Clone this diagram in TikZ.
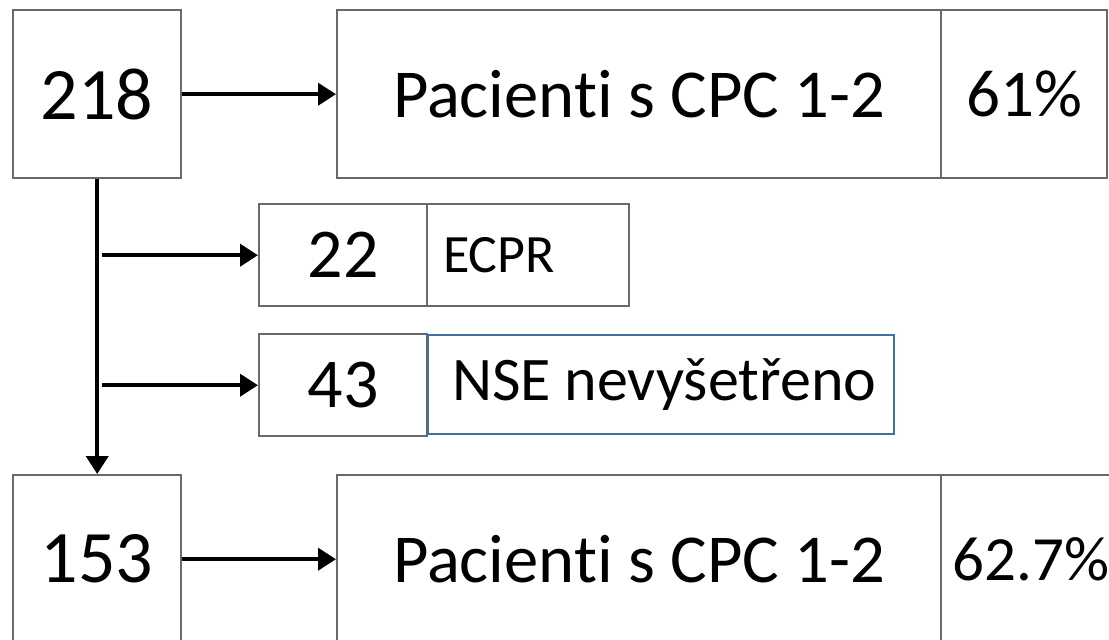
\documentclass[tikz,border=0pt]{standalone}
\usepackage{fontspec}
\setmainfont[Ligatures=NoCommon]{Carlito}
\usepackage{xcolor}
\usetikzlibrary{arrows.meta, positioning}
\definecolor{boxgray}{RGB}{105,105,105}
\definecolor{nseblue}{RGB}{65,113,156}
\tikzstyle{block} = [rectangle, draw=boxgray, line width=1.2pt, anchor=north west, inner sep=0pt, minimum height=84pt]
\tikzstyle{cell} = [block, minimum height=51pt]
\tikzstyle{arrow} = [line width=2pt, -{Triangle[length=9pt,width=11pt]}]
\newcommand{\fs}[1]{\fontsize{#1}{1.2\dimexpr#1pt\relax}\selectfont}

\begin{document}
\begin{tikzpicture}[x=0.5pt, y=-0.5pt]
  \useasboundingbox (0,0) rectangle (1109,639);

  % Top row
  \node [block, minimum width=84pt, font=\fs{37}] (n218) at (12,9) {218};
  \node [block, minimum width=302pt, font=\fs{34.3}] (pac1) at (336,9) {Pacienti s CPC 1-2};
  \node [block, minimum width=83pt, font=\fs{33.5}] (pct1) at (940,9) {61\%};

  % Excluded patients
  \node [cell, minimum width=84pt, font=\fs{35}] (n22) at (258,203) {22};
  \node [cell, inner xsep=8pt, font=\fs{27}] (ecpr) at (426,203) {\makebox[85pt][l]{ECPR}};
  \node [cell, minimum width=84pt, font=\fs{35}] (n43) at (258,333) {43};
  \node [cell, draw=nseblue, line width=1pt, minimum height=49.5pt, inner xsep=12pt, font=\fs{31}] (nse) at (427,334) {\makebox[209pt][l]{NSE nevyšetřeno}};

  % Bottom row
  \node [block, minimum width=84pt, font=\fs{37}] (n153) at (12,474) {153};
  \node [block, minimum width=302pt, font=\fs{34.3}] (pac2) at (336,474) {Pacienti s CPC 1-2};
  \node [block, minimum width=90pt, font=\fs{31.5}] (pct2) at (940,474) {62.7\%};

  % Connectors
  \coordinate (trunk) at (102,0);
  \draw [arrow] (n218.east) -- (pac1.west);
  \draw [arrow] (n218.south) -- (n153.north);
  \draw [arrow] (trunk |- n22.west) -- (n22.west);
  \draw [arrow] (trunk |- n43.west) -- (n43.west);
  \draw [arrow] (n153.east) -- (pac2.west);
\end{tikzpicture}
\end{document}
